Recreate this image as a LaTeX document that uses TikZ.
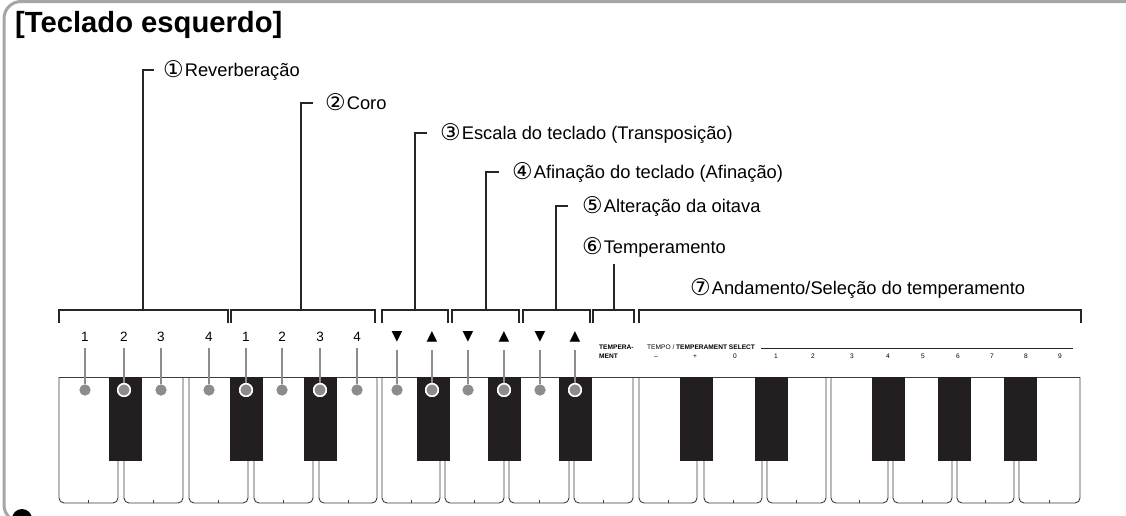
\documentclass[tikz,border=0pt]{standalone}
\usepackage{fontspec}
\setmainfont{Liberation Sans}
\newfontfamily\symfont{DejaVu Sans}
\usepackage{xcolor}
\usepackage{tikz}

\definecolor{framegray}{HTML}{A6A6A6}
\definecolor{dotgray}{HTML}{8C8C8C}
\definecolor{keyblack}{HTML}{231F20}
\definecolor{keyline}{HTML}{3C3C3C}

\newcommand{\circnum}[1]{\raisebox{-1pt}{\symfont\fontsize{23}{24}\selectfont #1}\hspace{1pt}}

\begin{document}
\begin{tikzpicture}[x=1pt, y=-1pt,
    lbl/.style={anchor=west, inner sep=0pt, text height=12.9pt, text depth=0pt, font=\fontsize{18.3}{20}\selectfont},
    bracket/.style={draw=black!85, line width=1.1pt},
    num/.style={anchor=base, inner sep=0pt, font=\fontsize{13.5}{15}\selectfont},
    tri/.style={anchor=base, inner sep=0pt, font=\symfont\fontsize{14}{15}\selectfont},
    stem/.style={draw=dotgray, line width=2.6pt},
    dot/.style={circle, fill=dotgray, minimum size=11pt, inner sep=0pt},
    bdot/.style={dot, draw=white, line width=1.5pt, minimum size=12.5pt},
    whitekey/.style={draw=keyline, line width=0.9pt, rounded corners=5pt},
    blackkey/.style={fill=keyblack},
    tiny/.style={anchor=base west, inner sep=0pt, font=\bfseries\fontsize{6.6}{7}\selectfont},
    tinyval/.style={anchor=base, inner sep=0pt, font=\fontsize{6.6}{7}\selectfont},
    frame/.style={draw=framegray, line width=3pt, rounded corners=17pt}
]
\useasboundingbox (0,0) rectangle (1126,515);
\clip (0,0) rectangle (1126,515);

% Frame
\draw[frame] (1140,1.5) -- (4,1.5) -- (4,522) -- (40,522);
\fill (22,519) circle (10pt);

% Title
\node[anchor=base west, inner sep=0pt, font=\bfseries\fontsize{29.2}{31}\selectfont] (title) at (15,32) {[Teclado esquerdo]};

% Labels
\node[lbl] (rev) at (163,70) {\circnum{①}Reverberação};
\node[lbl] (coro) at (325,103) {\circnum{②}Coro};
\node[lbl] (escala) at (440,133) {\circnum{③}Escala do teclado (Transposição)};
\node[lbl] (afin) at (512,172) {\circnum{④}Afinação do teclado (Afinação)};
\node[lbl] (oitava) at (582,206) {\circnum{⑤}Alteração da oitava};
\node[lbl] (temp) at (582,247) {\circnum{⑥}Temperamento};
\node[lbl] (andam) at (690,288) {\circnum{⑦}Andamento/Seleção do temperamento};

% Brackets
\foreach \l/\r/\m [count=\i] in {59/228/143, 231/375/301, 382/448/415, 452/519/486, 523/590/556, 593/634/614, 639/1081/860} {
  \draw[bracket] (\l,323) |- (\r,310) -- (\r,323);
  \coordinate (br\i) at (\m,310);
}
\draw[bracket] (br1) |- ([xshift=-9pt]rev.west);
\draw[bracket] (br2) |- ([xshift=-12pt]coro.west);
\draw[bracket] (br3) |- ([xshift=-13pt]escala.west);
\draw[bracket] (br4) |- ([xshift=-13pt]afin.west);
\draw[bracket] (br5) |- ([xshift=-14pt]oitava.west);
\draw[bracket] (br6) -- ([yshift=-10pt]br6 |- temp.south);

% White keys
\foreach \a/\b in {59/118, 124/183, 189/248, 254/313, 319/377, 382/440, 445/504, 509/569, 574/633, 639/697, 704/762, 767/826, 831/888, 893/952, 957/1014, 1019/1080} {
  \draw[whitekey] (\a,377) -- (\a,503) -- (\b,503) -- (\b,377);
  \draw[keyline, line width=0.7pt] ({(\a+\b)/2},503) -- ++(0,-3);
}
\draw[keyline, line width=0.9pt] (59,377) -- (1080,377);

% Black keys
\foreach \a in {109, 230, 304, 417, 488, 559, 680, 755, 872, 938, 1004}
  \fill[blackkey] (\a,377) rectangle ++(33,84);

% Effect numbers
\foreach \x/\t/\s [count=\i] in {85/1/dot, 124/2/bdot, 161/3/dot, 209/4/dot, 246/1/bdot, 282/2/dot, 320/3/bdot, 357/4/dot} {
  \node[num] (n\i) at (\x,341) {\t};
  \node[\s] (d\i) at (\x,390) {};
  \draw[stem, shorten <=7pt] (n\i.south) -- (d\i);
  \node[\s] at (d\i) {};
}

% Down / up
\foreach \x/\t/\s [count=\i] in {397/▼/dot, 432/▲/bdot, 468/▼/dot, 504/▲/bdot, 540/▼/dot, 575/▲/bdot} {
  \node[tri] (t\i) at (\x,340) {\t};
  \node[\s] (e\i) at (\x,390) {};
  \draw[stem, shorten <=8pt] (t\i.south) -- (e\i);
  \node[\s] at (e\i) {};
}

% Small panel texts
\node[tiny] (tempa) at (599,349) {TEMPERA-};
\node[tiny] (tempb) at (599,358) {MENT};
\node[tiny] (tsel) at (647,349) {{\mdseries TEMPO /} TEMPERAMENT SELECT};
\draw[black!85, line width=0.9pt] ([xshift=6pt, yshift=1pt]tsel.base east) -- (1073,348);
\foreach \x/\t [count=\i] in {656/--, 695/+, 735/0, 776/1, 813/2, 852/3, 888/4, 923/5, 958/6, 992/7, 1026/8, 1060/9}
  \node[tinyval] (sel\i) at (\x,358) {\t};

\end{tikzpicture}
\end{document}
